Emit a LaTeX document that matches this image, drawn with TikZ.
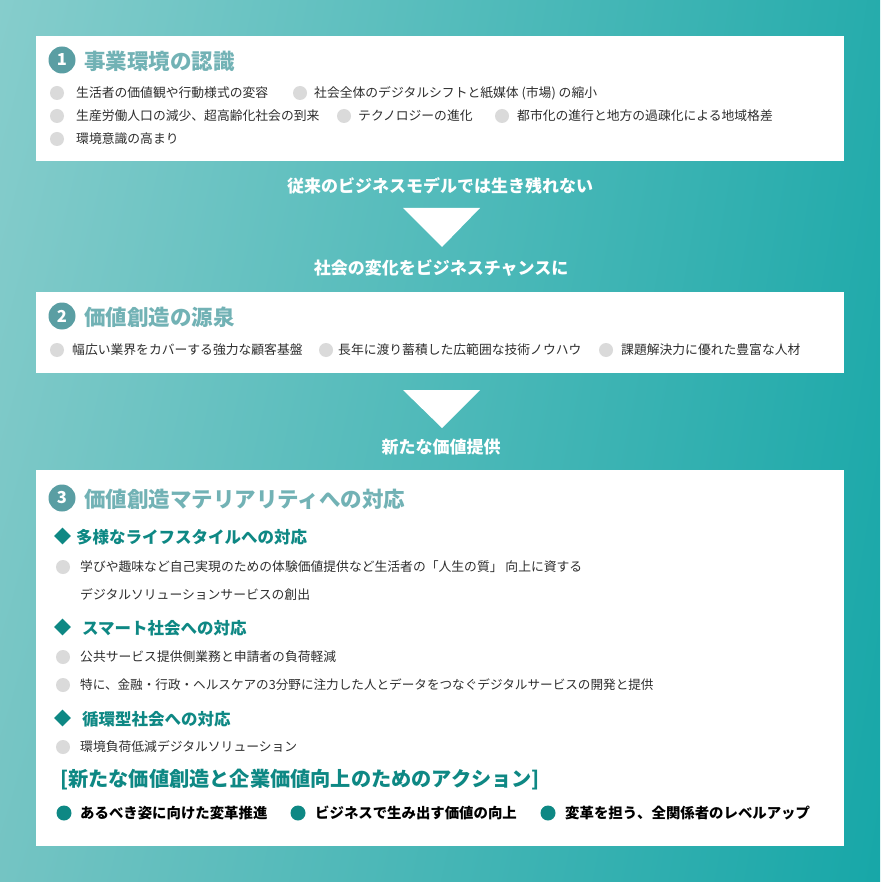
\documentclass[tikz,border=0pt]{standalone}
\usepackage{fontspec}
\setmainfont{Noto Sans CJK JP}
\usetikzlibrary{shapes.geometric,shadings}
\definecolor{bgL}{HTML}{86CDCC}
\definecolor{bgR}{HTML}{17A7A8}
\definecolor{bgBL}{HTML}{74C4C3}
\definecolor{bgTR}{HTML}{26ACAC}
\definecolor{numc}{HTML}{5A9EA3}
\definecolor{titc}{HTML}{72B2B5}
\definecolor{teal}{HTML}{0E8884}
\definecolor{dotg}{HTML}{DADADA}
\definecolor{txt}{HTML}{2E2E2E}
\tikzset{
  panel/.style={fill=white,draw=none},
  numdot/.style={circle,fill=numc,text=white,font=\fontsize{16.5}{16.5}\selectfont\bfseries,minimum size=27pt,inner sep=0pt},
  title/.style={anchor=west,text=titc,font=\fontsize{21.5}{22}\selectfont\bfseries,inner sep=0pt},
  body/.style={anchor=west,text=txt,font=\fontsize{12.8}{13}\selectfont,inner sep=0pt},
  graydot/.style={circle,fill=dotg,minimum size=14pt,inner sep=0pt},
  tealdot/.style={circle,fill=teal,minimum size=15pt,inner sep=0pt},
  subhead/.style={anchor=west,text=teal,font=\fontsize{16.5}{17}\selectfont\bfseries,inner sep=0pt},
  diam/.style={diamond,fill=teal,minimum size=17pt,inner sep=0pt},
  flowtxt/.style={text=white,font=\fontsize{17}{17}\selectfont\bfseries,inner sep=0pt},
  actxt/.style={anchor=west,text=black,font=\fontsize{14.4}{15}\selectfont\bfseries,inner sep=0pt},
}
\begin{document}
\begin{tikzpicture}[x=1pt,y=-1pt]
\useasboundingbox (0,0) rectangle (880,882);
\shade[upper left=bgL,upper right=bgTR,lower left=bgBL,lower right=bgR] (0,0) rectangle (880,882);
% panels
\fill[panel] (36,36) rectangle (844,161);
\fill[panel] (36,292) rectangle (844,373);
\fill[panel] (36,470) rectangle (844,846);
% box 1
\node[numdot] (n1) at (62,60) {1};
\node[title] (t1) at (84,61) {事業環境の認識};
\node[graydot] (d11) at (57,93) {};
\node[body] (b11) at (76,93) {生活者の価値観や行動様式の変容};
\node[graydot] (d12) at (300,93) {};
\node[body] (b12) at (314,93) {社会全体のデジタルシフトと紙媒体 (市場) の縮小};
\node[graydot] (d13) at (57,116) {};
\node[body] (b13) at (76,116) {生産労働人口の減少、超高齢化社会の到来};
\node[graydot] (d14) at (344,116) {};
\node[body] (b14) at (358,116) {テクノロジーの進化};
\node[graydot] (d15) at (502,116) {};
\node[body] (b15) at (517,116) {都市化の進行と地方の過疎化による地域格差};
\node[graydot] (d16) at (57,139) {};
\node[body] (b16) at (76,139) {環境意識の高まり};
% flow 1
\node[flowtxt] (f1) at (440,186) {従来のビジネスモデルでは生き残れない};
\coordinate (a1l) at (403,208);
\coordinate (a1r) at (480,208);
\coordinate (a1t) at (442,247);
\fill[white] (a1l) -- (a1r) -- (a1t) -- cycle;
\node[flowtxt] (f2) at (441,268) {社会の変化をビジネスチャンスに};
% box 2
\node[numdot] (n2) at (62,316) {2};
\node[title] (t2) at (84,317) {価値創造の源泉};
\node[graydot] (d21) at (57,350) {};
\node[body] (b21) at (72,350) {幅広い業界をカバーする強力な顧客基盤};
\node[graydot] (d22) at (326,350) {};
\node[body] (b22) at (338,350) {長年に渡り蓄積した広範囲な技術ノウハウ};
\node[graydot] (d23) at (606,350) {};
\node[body] (b23) at (621,350) {課題解決力に優れた豊富な人材};
% flow 2
\coordinate (a2l) at (403,390);
\coordinate (a2r) at (480,390);
\coordinate (a2t) at (442,428);
\fill[white] (a2l) -- (a2r) -- (a2t) -- cycle;
\node[flowtxt] (f3) at (441,447) {新たな価値提供};
% box 3
\node[numdot] (n3) at (62,498) {3};
\node[title] (t3) at (84,499) {価値創造マテリアリティへの対応};
\node[diam] (s1d) at (62.5,536) {};
\node[subhead] (s1) at (76,537) {多様なライフスタイルへの対応};
\node[graydot] (d31) at (63,567) {};
\node[body] (b31) at (80,567) {学びや趣味など自己実現のための体験価値提供など生活者の「人生の質」 向上に資する};
\node[body] (b32) at (80,595) {デジタルソリューションサービスの創出};
\node[diam] (s2d) at (62.5,627) {};
\node[subhead] (s2) at (82,628) {スマート社会への対応};
\node[graydot] (d33) at (63,657) {};
\node[body] (b33) at (80,657) {公共サービス提供側業務と申請者の負荷軽減};
\node[graydot] (d34) at (63,685) {};
\node[body,font=\fontsize{12.6}{13}\selectfont] (b34) at (80,685) {特に、金融・行政・ヘルスケアの3分野に注力した人とデータをつなぐデジタルサービスの開発と提供};
\node[diam] (s3d) at (62.5,718) {};
\node[subhead] (s3) at (82,719) {循環型社会への対応};
\node[graydot] (d35) at (63,747) {};
\node[body] (b35) at (80,747) {環境負荷低減デジタルソリューション};
\node[anchor=west,text=teal,font=\fontsize{20.2}{21}\selectfont\bfseries,inner sep=0pt] (act) at (60,780) {[新たな価値創造と企業価値向上のためのアクション]};
\node[tealdot] (e1) at (64,813) {};
\node[actxt] (a1) at (80,813) {あるべき姿に向けた変革推進};
\node[tealdot] (e2) at (298,813) {};
\node[actxt] (a2) at (315,813) {ビジネスで生み出す価値の向上};
\node[tealdot] (e3) at (548,813) {};
\node[actxt] (a3) at (565,813) {変革を担う、全関係者のレベルアップ};
\end{tikzpicture}
\end{document}
